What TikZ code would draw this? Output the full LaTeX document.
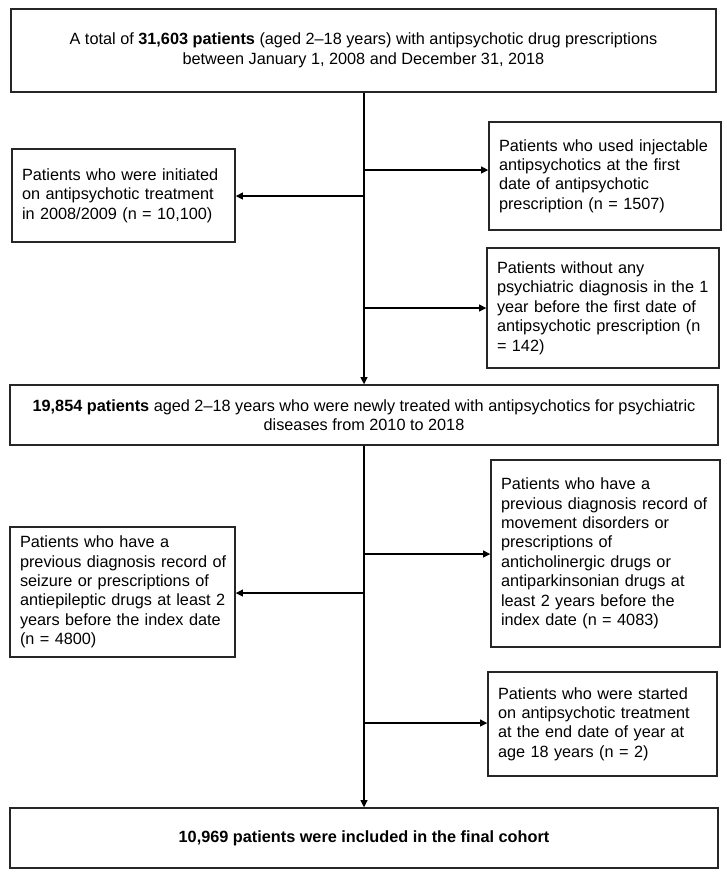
\documentclass[tikz,border=0pt]{standalone}
\usepackage{fontspec}
\setmainfont{Liberation Sans}
\usetikzlibrary{arrows.meta}
\begin{document}
\begin{tikzpicture}[x=0.75pt,y=-0.75pt,
  box/.style={draw=black!85,line width=0.9pt,rectangle,inner xsep=7.5pt,inner ysep=0pt,
    font=\fontsize{12.2}{14.6}\selectfont},
  lbox/.style={box,align=left},
  cbox/.style={box,align=center},
  conn/.style={line width=1.3pt,black},
  arr/.style={conn,-{Triangle[length=5.5pt,width=5pt]}}]
\useasboundingbox (0,0) rectangle (727,875);
\fill[white] (0,0) rectangle (727,875);
\node[cbox,minimum width=528.75pt,minimum height=62.25pt] (top) at (363.5,50.5)
  {A total of \textbf{31,603 patients} (aged 2--18 years) with antipsychotic drug prescriptions\\between January 1, 2008 and December 31, 2018};
\node[lbox,text width=152.25pt,minimum height=69.75pt] (L1) at (123.5,195.5)
  {Patients who were initiated\\on antipsychotic treatment\\in 2008/2009 (n = 10,100)};
\node[lbox,text width=159pt,minimum height=81pt] (R1) at (605,176)
  {Patients who used injectable\\antipsychotics at the first\\date of antipsychotic\\prescription (n = 1507)};
\node[lbox,text width=159pt,minimum height=90pt] (R2) at (603,308)
  {Patients without any\\psychiatric diagnosis in the 1\\year before the first date of\\antipsychotic prescription (n\\= 142)};
\node[cbox,minimum width=531pt,minimum height=45pt] (B2) at (364,415)
  {\textbf{19,854 patients} aged 2--18 years who were newly treated with antipsychotics for psychiatric\\diseases from 2010 to 2018};
\node[lbox,text width=156.75pt,minimum height=140.25pt] (R3) at (605.5,553.5)
  {\mbox{Patients who have a}\\\mbox{previous diagnosis record of}\\\mbox{movement disorders or}\\\mbox{prescriptions of}\\\mbox{anticholinergic drugs or}\\\mbox{antiparkinsonian drugs at}\\\mbox{least 2 years before the}\\\mbox{index date (n = 4083)}};
\node[lbox,text width=153.75pt,minimum height=97.5pt] (L2) at (122.5,592)
  {\mbox{Patients who have a}\\\mbox{previous diagnosis record of}\\\mbox{seizure or prescriptions of}\\\mbox{antiepileptic drugs at least 2}\\\mbox{years before the index date}\\\mbox{(n = 4800)}};
\node[lbox,text width=156.75pt,minimum height=78pt] (R4) at (602.5,724)
  {Patients who were started\\on antipsychotic treatment\\at the end date of year at\\age 18 years (n = 2)};
\node[cbox,minimum width=531pt,minimum height=45pt] (F) at (364,838)
  {\textbf{10,969 patients were included in the final cohort}};
\coordinate (tr) at (364,0);
\coordinate (b1) at (364,170);
\coordinate (b2) at (364,196);
\coordinate (b3) at (364,308);
\coordinate (b4) at (364,554);
\coordinate (b5) at (364,593);
\coordinate (b6) at (364,723);
\draw[arr] (top.south -| tr) -- (B2.north -| tr);
\draw[arr] (B2.south -| tr) -- (F.north -| tr);
\draw[arr] (b1) -- (b1 -| R1.west);
\draw[arr] (b2) -- (b2 -| L1.east);
\draw[arr] (b3) -- (b3 -| R2.west);
\draw[arr] (b4) -- (b4 -| R3.west);
\draw[arr] (b5) -- (b5 -| L2.east);
\draw[arr] (b6) -- (b6 -| R4.west);
\end{tikzpicture}
\end{document}
